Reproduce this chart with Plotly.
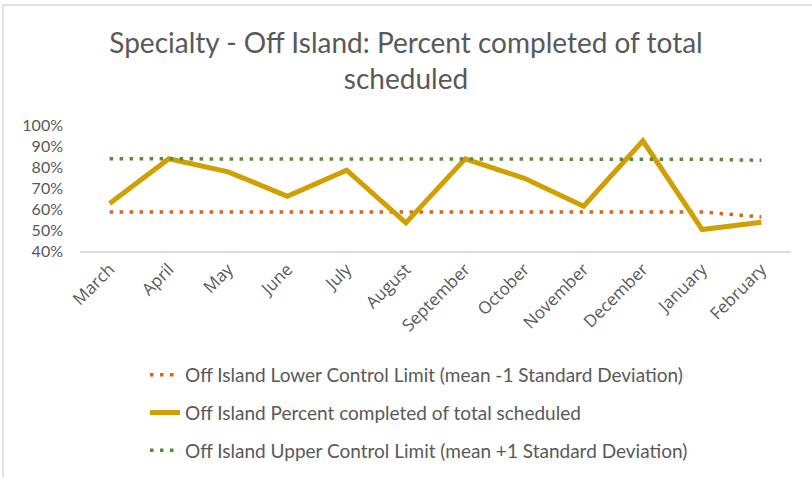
import plotly.graph_objects as go

months = ["March", "April", "May", "June", "July", "August", "September",
          "October", "November", "December", "January", "February"]
pct_completed = [62.6, 83.9, 77.7, 66.1, 78.5, 53.4, 83.9, 74.6, 61.3, 92.5, 50.2, 53.7]
lower_limit = [58.6, 58.6, 58.6, 58.6, 58.6, 58.6, 58.6, 58.6, 58.6, 58.6, 58.6, 56.2]
upper_limit = [83.9, 83.9, 83.9, 83.9, 83.9, 83.9, 83.9, 83.9, 83.9, 83.9, 83.7, 83.2]
y_ticks = [40, 50, 60, 70, 80, 90, 100]
y_tick_labels = ["40%", "50%", "60%", "70%", "80%", "90%", "100%"]

ORANGE = "#D9641E"
GOLD = "#D1A000"
GREEN = "#5A8C37"
TEXT = "#595959"
FONT = "Lato"

fig = go.Figure()
fig.add_trace(go.Scatter(
    x=months, y=lower_limit, mode="lines", legendgroup="a",
    name="Off Island Lower Control Limit (mean -1 Standard Deviation)",
    line=dict(color=ORANGE, width=3.5, dash="3.5px,6.5px")))
fig.add_trace(go.Scatter(
    x=months, y=pct_completed, mode="lines", legendgroup="b",
    name="Off Island Percent completed of total scheduled",
    line=dict(color=GOLD, width=5)))
fig.add_trace(go.Scatter(
    x=months, y=upper_limit, mode="lines", legendgroup="c",
    name="Off Island Upper Control Limit (mean +1 Standard Deviation)",
    line=dict(color=GREEN, width=3.5, dash="3.5px,6.5px")))

L, R, T, B = 80, 21, 125, 226
W, H = 812, 477
pw, ph = W - L - R, H - T - B

def px(x):
    return (x - L) / pw

def py(y):
    return (H - B - y) / ph

fig.update_layout(
    width=W, height=H,
    margin=dict(l=L, r=R, t=T, b=B, autoexpand=False),
    paper_bgcolor="white", plot_bgcolor="white",
    font=dict(family=FONT, color=TEXT),
    title=dict(text="Specialty - Off Island: Percent completed of total<br>scheduled",
               x=0.5, xanchor="center", xref="container",
               y=1 - 53 / H, yanchor="middle", yref="container",
               font=dict(size=28, color=TEXT, family=FONT)),
    xaxis=dict(showgrid=False, showline=True, linecolor="#D9D9D9", linewidth=1.5,
               range=[-0.5, len(months) - 0.5],
               tickangle=-45, tickfont=dict(size=17, color=TEXT, family="Open Sans"),
               ticks="", fixedrange=True),
    yaxis=dict(range=[40, 100], tickvals=y_ticks, ticktext=y_tick_labels,
               showgrid=False, zeroline=False, showline=False,
               tickfont=dict(size=16, color=TEXT, family=FONT),
               ticklabelstandoff=16, ticks="", fixedrange=True),
    showlegend=True,
    legend=dict(orientation="v", x=px(145), xanchor="left", y=py(356), yanchor="top",
                traceorder="grouped", tracegroupgap=10,
                font=dict(size=19, color=TEXT, family=FONT),
                bgcolor="rgba(0,0,0,0)"),
    shapes=[
        dict(type="line", xref="paper", yref="paper", x0=px(3), x1=px(W + 5),
             y0=py(5), y1=py(5), line=dict(color="#D9D9D9", width=1.5)),
        dict(type="line", xref="paper", yref="paper", x0=px(3), x1=px(3),
             y0=py(5), y1=py(H + 5), line=dict(color="#D9D9D9", width=1.5)),
    ],
)

fig.write_html("out.html", config={"displayModeBar": False},
               post_script="document.body.style.margin='0px';")
